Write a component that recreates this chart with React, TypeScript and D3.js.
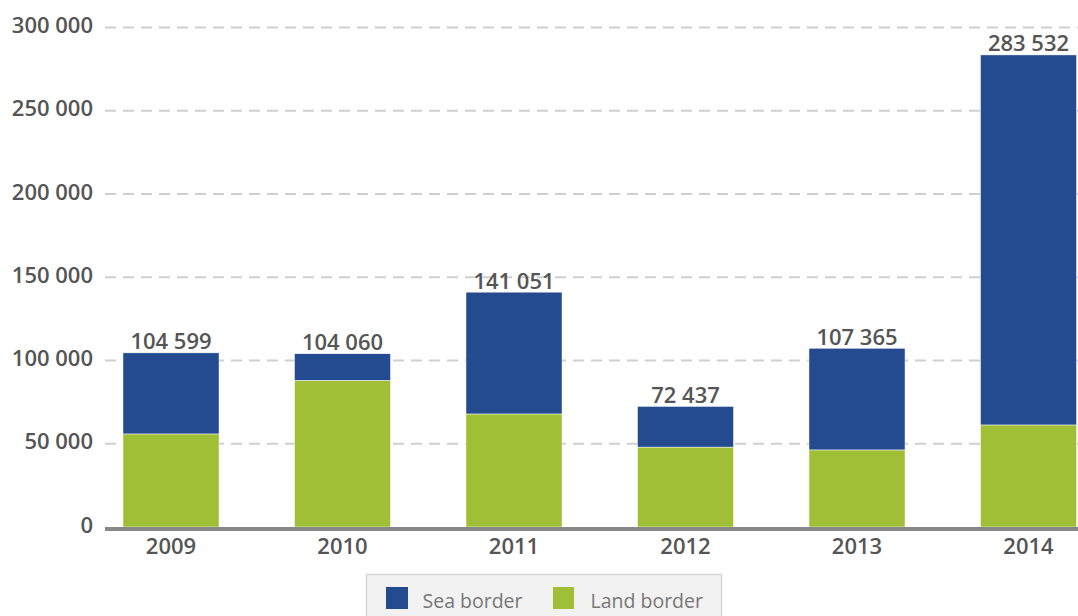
import React from "react";
import * as d3 from "d3";

const years = ["2009", "2010", "2011", "2012", "2013", "2014"];
const landBorder = [55900, 88100, 67900, 48000, 46300, 61300];
const seaBorder = [48699, 15960, 73151, 24437, 61065, 222232];
const totalLabels = ["104 599", "104 060", "141 051", "72 437", "107 365", "283 532"];
const yTicks = [0, 50000, 100000, 150000, 200000, 250000, 300000];
const yTickLabels = ["0", "50 000", "100 000", "150 000", "200 000", "250 000", "300 000"];

const W = 1078;
const H = 616;
const SEA = "#244a90";
const LAND = "#a0bf36";
const FONT = "'Open Sans', sans-serif";

export default function App() {
  const x = d3
    .scaleBand<string>()
    .domain(years)
    .range([85.25, 1114.25])
    .paddingInner(0.44)
    .paddingOuter(0.22);
  const y = d3.scaleLinear().domain([0, 300000]).range([527, 27.5]);

  return (
    <svg
      width={W}
      height={H}
      style={{ position: "absolute", left: 0, top: 0, background: "#fff" }}
    >
      {yTicks.map((t, i) => (
        <g key={t}>
          {t !== 0 && (
            <line
              x1={105}
              x2={W}
              y1={y(t)}
              y2={y(t)}
              stroke="#cfcfcf"
              strokeWidth={2}
              strokeDasharray="11 7"
            />
          )}
          <text
            x={93}
            y={y(t) + 5.5}
            textAnchor="end"
            fontFamily={FONT}
            fontWeight={600}
            fontSize={22}
            fill="#555"
          >
            {yTickLabels[i]}
          </text>
        </g>
      ))}

      {years.map((yr, i) => {
        const bx = x(yr)!;
        const bw = x.bandwidth();
        const landTop = y(landBorder[i]);
        const total = landBorder[i] + seaBorder[i];
        const seaTop = y(total);
        return (
          <g key={yr}>
            <rect
              x={bx}
              y={landTop}
              width={bw}
              height={y(0) - landTop}
              fill={LAND}
              stroke="#fff"
              strokeWidth={0.5}
            />
            <rect
              x={bx}
              y={seaTop}
              width={bw}
              height={landTop - seaTop}
              fill={SEA}
              stroke="#fff"
              strokeWidth={0.5}
            />
            <text
              x={bx + bw / 2}
              y={seaTop - 3.5}
              textAnchor="middle"
              fontFamily={FONT}
              fontWeight={600}
              fontSize={22}
              fill="#555"
            >
              {totalLabels[i]}
            </text>
            <text
              x={bx + bw / 2}
              y={553.5}
              textAnchor="middle"
              fontFamily={FONT}
              fontWeight={600}
              fontSize={22}
              fill="#555"
            >
              {yr}
            </text>
          </g>
        );
      })}

      <line x1={105} x2={W} y1={529} y2={529} stroke="#888" strokeWidth={4} />

      <g>
        <rect
          x={366.5}
          y={574.5}
          width={355}
          height={60}
          fill="#f2f2f2"
          stroke="#d6d6d6"
          strokeWidth={1.5}
        />
        <rect x={386} y={587} width={22} height={22} fill={SEA} />
        <text x={422.5} y={608} fontFamily={FONT} fontSize={19.5} fill="#777">
          Sea border
        </text>
        <rect x={553} y={587} width={21} height={22} fill={LAND} />
        <text x={590.5} y={608} fontFamily={FONT} fontSize={19.5} fill="#777">
          Land border
        </text>
      </g>
    </svg>
  );
}
